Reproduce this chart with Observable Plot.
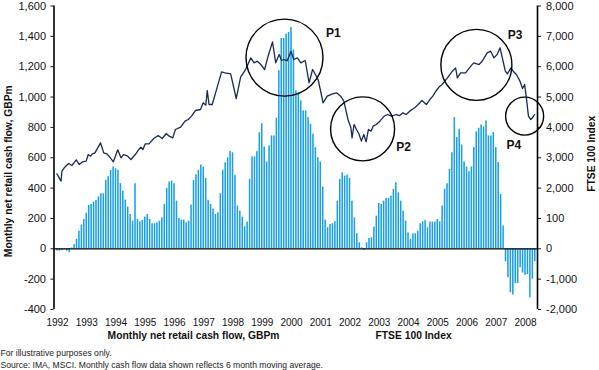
<!DOCTYPE html>
<html><head><meta charset="utf-8">
<script src="https://cdn.jsdelivr.net/npm/d3@7"></script>
<script src="https://cdn.jsdelivr.net/npm/@observablehq/plot@0.6"></script>
<style>
body{margin:0;background:#fff;font-family:"Liberation Sans",Arial,sans-serif;}
#notes{font-size:8.6px;line-height:12px;color:#222;margin:0;padding:1.5px 0 0 0.5px;}
</style></head><body>
<div id="chart"></div>
<div id="notes"><div>For illustrative purposes only.</div><div>Source: IMA, MSCI. Monthly cash flow data shown reflects 6 month moving average.</div></div>
<script>
// Monthly net retail cash flow (GBPm, 6-month moving average), Jan 1992 onward
const firstYear = 1992;
const cashFlow = [
  -15,-15,-10,-5,-15,-25,
  5,28,62,116,156,193,235,286,292,308,319,343,363,363,451,475,517,539,528,517,429,380,321,275,226,182,429,193,178,187,209,226,193,
  165,165,171,182,204,292,398,440,446,429,314,200,189,189,171,182,288,
  450,488,518,552,538,463,320,292,262,226,237,363,518,567,600,642,633,484,282,248,208,145,176,457,606,605,640,765,825,671,572,678,744,744,860,1173,1386,1386,1415,1426,1459,1309,1041,1030,975,909,909,865,820,755,667,600,572,
  407,189,139,160,165,178,314,457,501,479,486,464,314,204,99,40,7,-10,40,68,73,143,215,299,292,314,332,332,347,391,435,369,314,248,182,105,
  62,99,99,116,165,178,187,138,176,176,176,193,178,
  282,392,429,523,633,865,733,788,684,572,539,508,539,667,770,794,816,803,843,744,744,766,667,568,359,150,
  -85,-190,-290,-305,-230,-230,-125,-160,-175,-170,-323,-200,-85
];

// FTSE 100 Index readings (decimal year, index level)
const ftseYears = [
  1991.98,1992.12,1992.15,1992.23,1992.38,1992.49,1992.64,1992.74,1992.86,1992.98,
  1993.05,1993.13,1993.19,1993.28,1993.47,1993.58,1993.69,1993.81,1993.91,
  1994.06,1994.17,1994.26,1994.40,1994.51,1994.66,1994.78,1994.85,1994.92,
  1995.00,1995.13,1995.29,1995.44,1995.58,1995.72,1995.82,1995.94,
  1996.03,1996.21,1996.36,1996.47,1996.58,1996.72,1996.89,1996.98,
  1997.07,1997.12,1997.18,1997.29,1997.46,1997.61,1997.72,1997.92,
  1998.11,1998.26,1998.43,1998.61,1998.72,1998.83,1998.95,
  1999.08,1999.20,1999.35,1999.46,1999.58,1999.66,1999.74,1999.86,1999.98,
  2000.08,2000.20,2000.32,2000.47,2000.60,2000.72,2000.91,
  2001.08,2001.22,2001.40,2001.54,2001.68,2001.79,2001.93,
  2002.03,2002.07,2002.14,2002.22,2002.30,2002.39,2002.47,2002.55,2002.63,2002.72,2002.79,2002.90,
  2003.02,2003.17,2003.28,2003.42,2003.58,2003.70,2003.81,2003.92,
  2004.04,2004.21,2004.33,2004.46,2004.61,2004.73,2004.83,2004.95,
  2005.07,2005.15,2005.33,2005.50,2005.61,2005.67,2005.78,2005.95,
  2006.13,2006.23,2006.41,2006.52,2006.69,2006.81,2006.92,
  2007.03,2007.13,2007.22,2007.31,2007.38,2007.50,2007.58,2007.69,2007.81,2007.90,2007.97,
  2008.03,2008.10,2008.18,2008.24,2008.31
];
const ftseValues = [
  2470,2229,2558,2668,2811,2745,2932,2778,2866,2888,
  3107,3052,3129,3162,3492,3162,3129,2997,2866,
  3261,2997,3107,3052,2943,3107,3272,3349,3272,
  3459,3459,3634,3733,3634,3799,3711,3656,
  3931,4008,4205,4260,4370,4557,4590,4809,
  4732,5215,4754,4754,5325,5830,5797,5764,
  4952,5655,5907,6291,6127,6182,6072,
  5907,6346,6818,6127,6401,6204,6237,6204,6511,
  6237,6291,6127,6204,5468,5907,5578,
  4809,5029,5106,5139,5029,4864,4260,
  3986,3656,4096,3931,3800,3547,3766,3525,3931,3876,4041,4096,
  4205,4370,4425,4370,4425,4392,4480,4425,
  4535,4645,4754,4886,4754,4919,5029,5215,
  5358,5413,5633,5852,5962,5633,5797,5797,
  6017,6127,6072,6182,6456,6511,6291,
  6401,6621,6237,5852,5764,5962,5852,5742,5523,5281,5413,
  4974,4370,4260,4315,4425
];

const yearTicks = [1992,1993,1994,1995,1996,1997,1998,1999,2000,2001,2002,2003,2004,2005,2006,2007,2008];
const leftTicks = [-400,-200,0,200,400,600,800,1000,1200,1400,1600];
const leftTickLabels = ["-400","-200","0","200","400","600","800","1,000","1,200","1,400","1,600"];
const rightTickLabels = ["-2,000","-1,000","0","100","2,000","3,000","4,000","5,000","6,000","7,000","8,000"];
const leftTitle = "Monthly net retail cash flow, GBPm";
const rightTitle = "FTSE 100 Index";

// Annotations (circle centres and label anchors, in year / FTSE units)
const annoLabels = ["P1","P2","P3","P4"];
const circleYears = [1999.76, 2002.43, 2006.32, 2007.97];
const circleFtse = [6300, 3950, 6060, 4370];
const labelYears = [2001.43, 2003.83, 2007.64, 2007.6];
const labelFtse = [7090, 3350, 7040, 3400];

// ---- rendering ----
const axisRatio = 5;               // right axis = 5 x left axis
const circleRadius = [38.5, 32, 35.5, 19];
const xDomain = [1991.88, 2008.41];
const barColor = "#1a9fe3";
const lineColor = "#1b2a52";

const bars = cashFlow.map((v, k) => ({t: firstYear + k / 12, v}));
const ftse = ftseYears.map((t, i) => ({t, v: ftseValues[i]}));

const W = 599, H = 345;
const plot = Plot.plot({
  width: W, height: H,
  marginLeft: 53.5, marginRight: 62, marginTop: 5.5, marginBottom: 36,
  style: {fontFamily: "'Liberation Sans', Arial, sans-serif", fontSize: "11px", color: "#111", background: "#fff"},
  x: {domain: xDomain},
  y: {domain: [-400, 1600]},
  marks: [
    Plot.rectY(bars, {x1: d => d.t - 1/24, x2: d => d.t + 1/24, y: "v", fill: barColor, insetLeft: 0.45, insetRight: 0.45}),
    Plot.ruleY([0], {stroke: "#000", strokeWidth: 1.3}),
    Plot.ruleX(xDomain, {y1: -400, y2: 1600, stroke: "#000", strokeWidth: 1.6}),
    Plot.line(ftse, {x: "t", y: d => d.v / axisRatio, stroke: lineColor, strokeWidth: 1.3}),
    ...annoLabels.map((_, i) => Plot.dot([i], {x: () => circleYears[i], y: () => circleFtse[i] / axisRatio, r: circleRadius[i], stroke: "#000", strokeWidth: 1.4, fill: "none"})),
    Plot.text(annoLabels, {x: (d, i) => labelYears[i], y: (d, i) => labelFtse[i] / axisRatio, text: d => d, fontWeight: "bold", fontSize: 12, fill: "#111"}),
    Plot.axisY({anchor: "left", ticks: leftTicks, tickFormat: d => leftTickLabels[leftTicks.indexOf(d)], tickSize: 3, tickPadding: 5, label: null, fontSize: 11}),
    Plot.axisY({anchor: "right", ticks: leftTicks, tickFormat: d => rightTickLabels[leftTicks.indexOf(d)], tickSize: 3, tickPadding: 5.5, label: null, fontSize: 11}),
    Plot.axisX({ticks: yearTicks, tickFormat: d => String(d), tickSize: 0, tickPadding: 9, label: null, fontSize: 10}),
    Plot.text([leftTitle], {frameAnchor: "left", rotate: -90, textAnchor: "middle", dx: -45.5, dy: 13.5, fontWeight: "bold", fontSize: 10.3, fill: "#111"}),
    Plot.text([rightTitle], {frameAnchor: "right", rotate: -90, textAnchor: "middle", dx: 54, dy: -4, fontWeight: "bold", fontSize: 10.3, fill: "#111"}),
    Plot.text([leftTitle], {frameAnchor: "bottom-left", dx: 139.5, dy: 29, textAnchor: "middle", fontWeight: "bold", fontSize: 10.3, fill: "#111"}),
    Plot.text([rightTitle], {frameAnchor: "bottom-left", dx: 321.5, dy: 29, textAnchor: "start", fontWeight: "bold", fontSize: 10.3, fill: "#111"})
  ]
});
document.getElementById("chart").appendChild(plot);
</script>
</body></html>
